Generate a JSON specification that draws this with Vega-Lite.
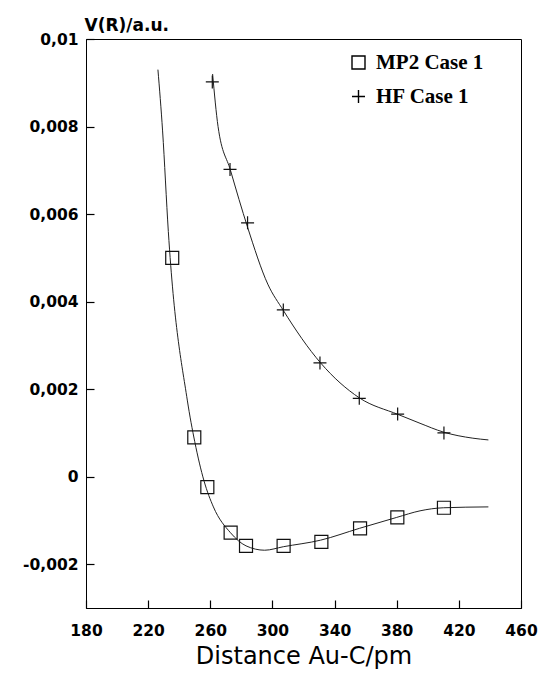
{
  "$schema": "https://vega.github.io/schema/vega-lite/v6.json",
  "width": 435,
  "height": 569,
  "autosize": {"type": "none"},
  "padding": {"left": 86, "top": 39, "right": 22, "bottom": 76},
  "background": "white",
  "config": {
    "locale": {"number": {"decimal": ",", "thousands": ".", "grouping": [3], "currency": ["", ""], "minus": "-"}},
    "view": {"stroke": "#000", "strokeWidth": 1},
    "axis": {
      "grid": false,
      "domainColor": "#000",
      "tickColor": "#000",
      "tickWidth": 1.2,
      "tickSize": -8,
      "labelFont": "DejaVu Sans",
      "labelFontSize": 15.5,
      "labelFontWeight": "bold",
      "labelColor": "#000",
      "titleFont": "DejaVu Sans",
      "titleColor": "#000",
      "titleFontWeight": "normal"
    }
  },
  "datasets": {
    "pts": [
      {"series": "MP2 Case 1", "r": 235.5, "v": 0.0050},
      {"series": "MP2 Case 1", "r": 249.7, "v": 0.0009},
      {"series": "MP2 Case 1", "r": 258.1, "v": -0.00024},
      {"series": "MP2 Case 1", "r": 273.1, "v": -0.00128},
      {"series": "MP2 Case 1", "r": 283.0, "v": -0.00158},
      {"series": "MP2 Case 1", "r": 307.2, "v": -0.00158},
      {"series": "MP2 Case 1", "r": 331.5, "v": -0.00149},
      {"series": "MP2 Case 1", "r": 356.4, "v": -0.00118},
      {"series": "MP2 Case 1", "r": 380.4, "v": -0.00093},
      {"series": "MP2 Case 1", "r": 410.4, "v": -0.00071},
      {"series": "HF Case 1", "r": 261.3, "v": 0.00902},
      {"series": "HF Case 1", "r": 272.7, "v": 0.00702},
      {"series": "HF Case 1", "r": 284.0, "v": 0.0058},
      {"series": "HF Case 1", "r": 307.0, "v": 0.00381},
      {"series": "HF Case 1", "r": 330.6, "v": 0.0026},
      {"series": "HF Case 1", "r": 355.9, "v": 0.00179},
      {"series": "HF Case 1", "r": 380.6, "v": 0.00143},
      {"series": "HF Case 1", "r": 410.4, "v": 0.0010}
    ],
    "curves": [
      {"series": "MP2 Case 1", "r": 226.3, "v": 0.0093},
      {"series": "MP2 Case 1", "r": 229.3, "v": 0.0079},
      {"series": "MP2 Case 1", "r": 233.0, "v": 0.0056},
      {"series": "MP2 Case 1", "r": 245.2, "v": 0.00175},
      {"series": "MP2 Case 1", "r": 250.0, "v": 0.0008},
      {"series": "MP2 Case 1", "r": 256.0, "v": -0.0001},
      {"series": "MP2 Case 1", "r": 262.0, "v": -0.00069},
      {"series": "MP2 Case 1", "r": 273.0, "v": -0.00128},
      {"series": "MP2 Case 1", "r": 283.0, "v": -0.00158},
      {"series": "MP2 Case 1", "r": 295.0, "v": -0.00168},
      {"series": "MP2 Case 1", "r": 307.0, "v": -0.0016},
      {"series": "MP2 Case 1", "r": 331.0, "v": -0.00145},
      {"series": "MP2 Case 1", "r": 356.0, "v": -0.00118},
      {"series": "MP2 Case 1", "r": 380.0, "v": -0.00093},
      {"series": "MP2 Case 1", "r": 395.0, "v": -0.00078},
      {"series": "MP2 Case 1", "r": 410.0, "v": -0.00071},
      {"series": "MP2 Case 1", "r": 439.0, "v": -0.00069},
      {"series": "HF Case 1", "r": 261.5, "v": 0.0092},
      {"series": "HF Case 1", "r": 265.0, "v": 0.0080},
      {"series": "HF Case 1", "r": 273.0, "v": 0.0070},
      {"series": "HF Case 1", "r": 284.0, "v": 0.0057},
      {"series": "HF Case 1", "r": 297.0, "v": 0.0044},
      {"series": "HF Case 1", "r": 307.0, "v": 0.0038},
      {"series": "HF Case 1", "r": 331.0, "v": 0.0026},
      {"series": "HF Case 1", "r": 356.0, "v": 0.0018},
      {"series": "HF Case 1", "r": 381.0, "v": 0.00142},
      {"series": "HF Case 1", "r": 395.0, "v": 0.00122},
      {"series": "HF Case 1", "r": 410.0, "v": 0.00102},
      {"series": "HF Case 1", "r": 429.0, "v": 0.00088},
      {"series": "HF Case 1", "r": 439.0, "v": 0.00084}
    ]
  },
  "encoding": {
    "x": {
      "field": "r", "type": "quantitative",
      "scale": {"domain": [180, 460], "nice": false, "zero": false},
      "axis": {
        "title": "Distance Au-C/pm",
        "values": [180, 220, 260, 300, 340, 380, 420, 460],
        "labelPadding": 23,
        "labelFlush": false,
        "titleFontSize": 24,
        "titleY": 55,
        "titleBaseline": "alphabetic"
      }
    },
    "y": {
      "field": "v", "type": "quantitative",
      "scale": {"domain": [-0.003, 0.01], "nice": false, "zero": false},
      "axis": {
        "title": "V(R)/a.u.",
        "values": [-0.002, 0, 0.002, 0.004, 0.006, 0.008, 0.01],
        "format": ".3~f",
        "labelPadding": 16,
        "labelFlush": false,
        "titleAngle": 0,
        "titleFontSize": 17,
        "titleFontWeight": "bold",
        "titleAlign": "left",
        "titleBaseline": "alphabetic",
        "titleX": -2,
        "titleY": -9
      }
    }
  },
  "layer": [
    {
      "data": {"name": "curves"},
      "mark": {"type": "line", "interpolate": "monotone", "color": "#222", "strokeWidth": 1},
      "encoding": {"detail": {"field": "series"}}
    },
    {
      "data": {"name": "pts"},
      "mark": {"type": "point", "filled": false, "color": "#111", "strokeWidth": 1.2, "opacity": 1},
      "encoding": {
        "shape": {
          "field": "series", "type": "nominal",
          "scale": {"domain": ["MP2 Case 1", "HF Case 1"], "range": ["square", "M-1,0H1M0,-1V1"]},
          "legend": {
            "title": null,
            "orient": "none",
            "legendX": 262,
            "legendY": 13,
            "padding": 0,
            "rowPadding": 12,
            "labelFont": "Liberation Serif",
            "labelFontWeight": "bold",
            "labelFontSize": 21,
            "labelColor": "#000",
            "labelOffset": 7,
            "symbolSize": 169,
            "symbolStrokeWidth": 1.4,
            "symbolStrokeColor": "#000"
          }
        },
        "size": {"value": 169}
      }
    }
  ]
}
